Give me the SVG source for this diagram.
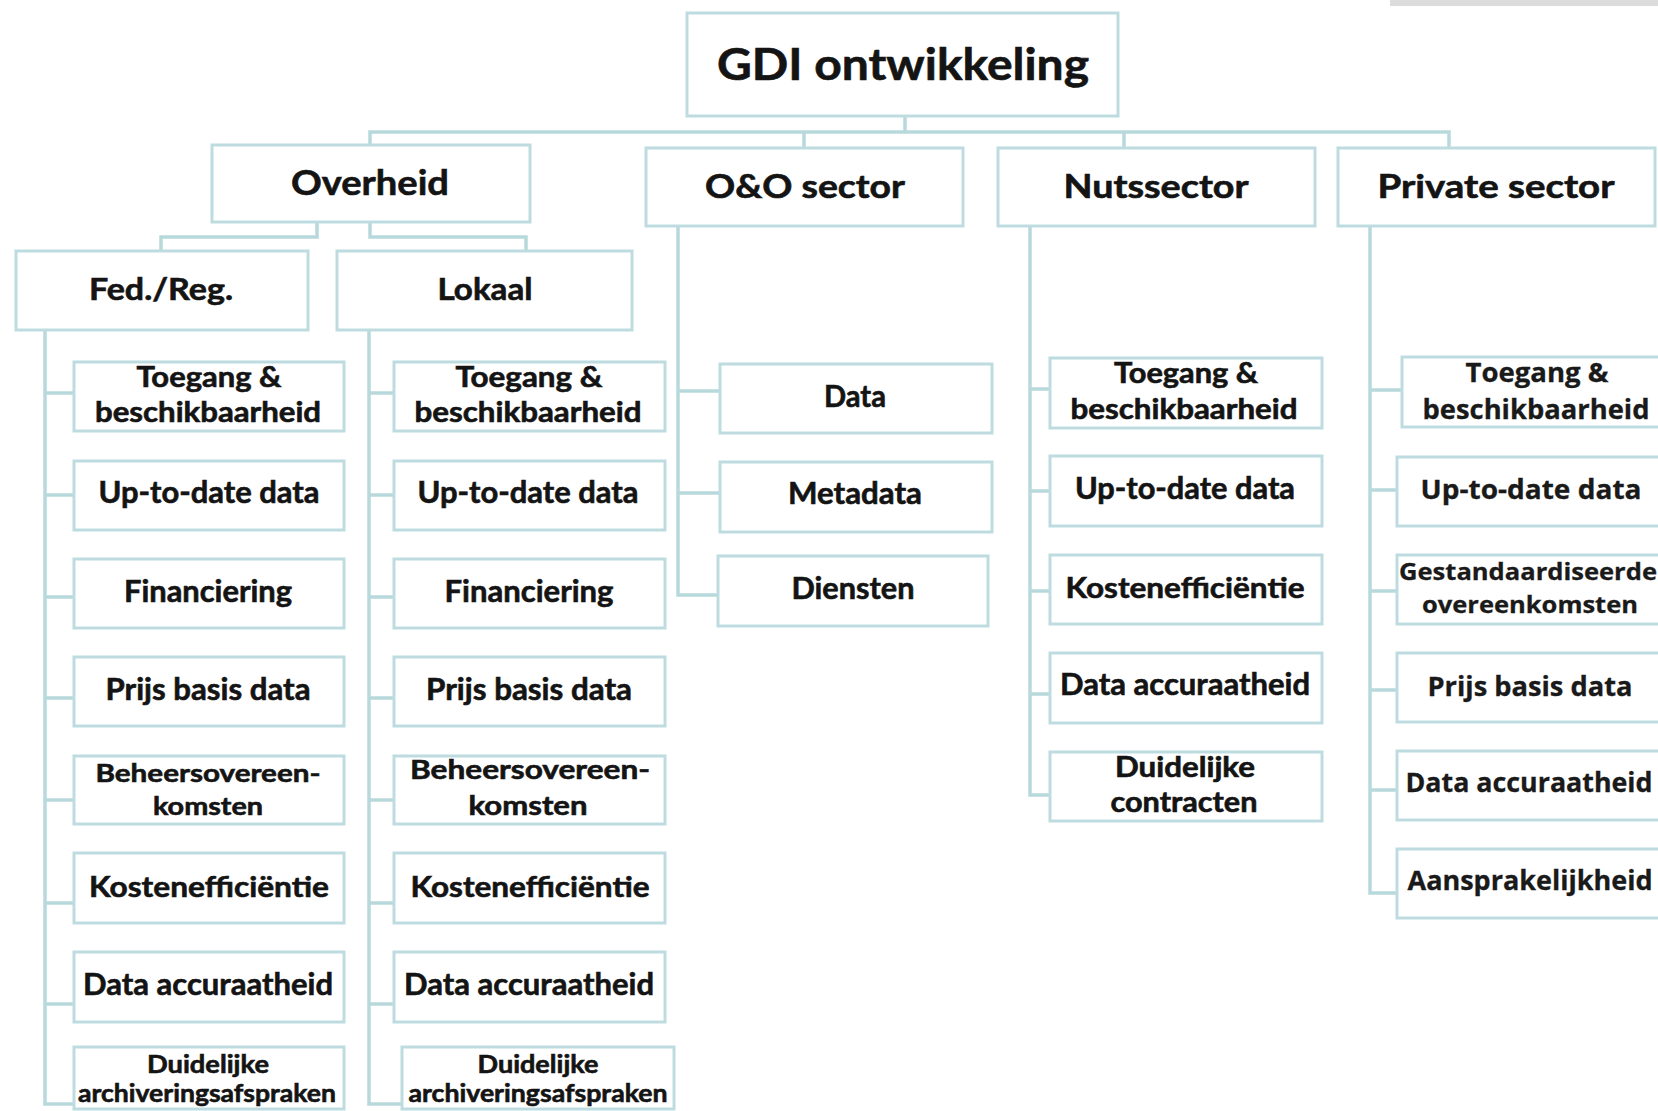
<svg xmlns="http://www.w3.org/2000/svg" width="1658" height="1111" viewBox="0 0 1658 1111">
<style>
.bx{fill:#ffffff;stroke:#bedcdf;stroke-width:3}
.cn{fill:none;stroke:#b8d9dc;stroke-width:3.5;stroke-linejoin:miter}
.t{font-family:Lato,"Liberation Sans",sans-serif;font-weight:700;fill:#141414;stroke:#141414;stroke-width:0.6;text-anchor:middle}
.p{font-family:"Open Sans","Liberation Sans",sans-serif;font-weight:700;fill:#1a1a1a;stroke:#1a1a1a;stroke-width:0.3;text-anchor:middle}
</style>
<rect width="1658" height="1111" fill="#ffffff"/>
<rect x="1390" y="0" width="268" height="6" fill="#dcdcdc"/>

<g id="connectors">
<path class="cn" d="M905,116V132M370,145V132H1449V148M804,132V148M1124,132V148"/>
<path class="cn" d="M317,222V237H161V251M370,222V237H526V251"/>
<path class="cn" d="M45,330V1104H74M45,393H74M45,495H74M45,597H74M45,698H74M45,800H74M45,903H74M45,1004H74"/>
<path class="cn" d="M369,330V1104H402M369,393H394M369,495H394M369,597H394M369,698H394M369,800H394M369,903H394M369,1004H394"/>
<path class="cn" d="M678,226V595H718M678,391H720M678,493H720"/>
<path class="cn" d="M1030,226V795H1050M1030,389H1050M1030,491H1050M1030,591H1050M1030,694H1050"/>
<path class="cn" d="M1370,226V893H1397M1370,390H1402M1370,490H1397M1370,591H1397M1370,690H1397M1370,790H1397"/>
</g>

<g id="gdi"><rect class="bx" x="687" y="13" width="431" height="103"/><text class="t" x="903" y="80" font-size="44" textLength="372" lengthAdjust="spacingAndGlyphs">GDI ontwikkeling</text></g>
<g id="overheid"><rect class="bx" x="212" y="145" width="318" height="77"/><text class="t" x="370" y="195" font-size="35" textLength="158" lengthAdjust="spacingAndGlyphs">Overheid</text></g>
<g id="oo-sector"><rect class="bx" x="646" y="148" width="317" height="78"/><text class="t" x="805" y="198" font-size="32" textLength="200" lengthAdjust="spacingAndGlyphs">O&amp;O sector</text></g>
<g id="nutssector"><rect class="bx" x="998" y="148" width="317" height="78"/><text class="t" x="1156" y="198" font-size="32" textLength="185" lengthAdjust="spacingAndGlyphs">Nutssector</text></g>
<g id="private-sector"><rect class="bx" x="1338" y="148" width="317" height="78"/><text class="t" x="1496" y="198" font-size="32" textLength="237" lengthAdjust="spacingAndGlyphs">Private sector</text></g>
<g id="fedreg"><rect class="bx" x="16" y="251" width="292" height="79"/><text class="t" x="161" y="300" font-size="30" textLength="144" lengthAdjust="spacingAndGlyphs">Fed./Reg.</text></g>
<g id="lokaal"><rect class="bx" x="337" y="251" width="295" height="79"/><text class="t" x="485" y="300" font-size="30" textLength="95" lengthAdjust="spacingAndGlyphs">Lokaal</text></g>

<!-- Fed./Reg. column -->
<g id="fed-toegang"><rect class="bx" x="74" y="362" width="270" height="69"/><text class="t" x="209" y="387" font-size="28" textLength="145" lengthAdjust="spacingAndGlyphs">Toegang &amp;</text><text class="t" x="208" y="422" font-size="28" textLength="226" lengthAdjust="spacingAndGlyphs">beschikbaarheid</text></g>
<g id="fed-uptodate"><rect class="bx" x="74" y="461" width="270" height="69"/><text class="t" x="209" y="503" font-size="30" textLength="221" lengthAdjust="spacingAndGlyphs">Up-to-date data</text></g>
<g id="fed-financiering"><rect class="bx" x="74" y="559" width="270" height="69"/><text class="t" x="208" y="602" font-size="30" textLength="168" lengthAdjust="spacingAndGlyphs">Financiering</text></g>
<g id="fed-prijs"><rect class="bx" x="74" y="657" width="270" height="69"/><text class="t" x="208" y="700" font-size="30" textLength="205" lengthAdjust="spacingAndGlyphs">Prijs basis data</text></g>
<g id="fed-beheer"><rect class="bx" x="74" y="756" width="270" height="68"/><text class="t" x="208" y="782" font-size="25" textLength="225" lengthAdjust="spacingAndGlyphs">Beheersovereen-</text><text class="t" x="208" y="815" font-size="25" textLength="110" lengthAdjust="spacingAndGlyphs">komsten</text></g>
<g id="fed-kosten"><rect class="bx" x="74" y="853" width="270" height="70"/><text class="t" x="209" y="897" font-size="29" textLength="240" lengthAdjust="spacingAndGlyphs">Kostenefficiëntie</text></g>
<g id="fed-accuraat"><rect class="bx" x="74" y="952" width="270" height="70"/><text class="t" x="208" y="995" font-size="30" textLength="250" lengthAdjust="spacingAndGlyphs">Data accuraatheid</text></g>
<g id="fed-archief"><rect class="bx" x="74" y="1047" width="270" height="62"/><text class="t" x="208" y="1073" font-size="24" textLength="122" lengthAdjust="spacingAndGlyphs">Duidelijke</text><text class="t" x="207" y="1102" font-size="24" textLength="258" lengthAdjust="spacingAndGlyphs">archiveringsafspraken</text></g>

<!-- Lokaal column -->
<g id="lok-toegang"><rect class="bx" x="394" y="362" width="271" height="69"/><text class="t" x="529" y="387" font-size="28" textLength="147" lengthAdjust="spacingAndGlyphs">Toegang &amp;</text><text class="t" x="528" y="422" font-size="28" textLength="227" lengthAdjust="spacingAndGlyphs">beschikbaarheid</text></g>
<g id="lok-uptodate"><rect class="bx" x="394" y="461" width="271" height="69"/><text class="t" x="528" y="503" font-size="30" textLength="221" lengthAdjust="spacingAndGlyphs">Up-to-date data</text></g>
<g id="lok-financiering"><rect class="bx" x="394" y="559" width="271" height="69"/><text class="t" x="529" y="602" font-size="30" textLength="169" lengthAdjust="spacingAndGlyphs">Financiering</text></g>
<g id="lok-prijs"><rect class="bx" x="394" y="657" width="271" height="69"/><text class="t" x="529" y="700" font-size="30" textLength="206" lengthAdjust="spacingAndGlyphs">Prijs basis data</text></g>
<g id="lok-beheer"><rect class="bx" x="394" y="756" width="271" height="68"/><text class="t" x="530" y="779" font-size="27" textLength="240" lengthAdjust="spacingAndGlyphs">Beheersovereen-</text><text class="t" x="528" y="815" font-size="27" textLength="119" lengthAdjust="spacingAndGlyphs">komsten</text></g>
<g id="lok-kosten"><rect class="bx" x="394" y="853" width="271" height="70"/><text class="t" x="530" y="897" font-size="29" textLength="239" lengthAdjust="spacingAndGlyphs">Kostenefficiëntie</text></g>
<g id="lok-accuraat"><rect class="bx" x="394" y="952" width="271" height="70"/><text class="t" x="529" y="995" font-size="30" textLength="250" lengthAdjust="spacingAndGlyphs">Data accuraatheid</text></g>
<g id="lok-archief"><rect class="bx" x="402" y="1047" width="272" height="62"/><text class="t" x="538" y="1073" font-size="24" textLength="121" lengthAdjust="spacingAndGlyphs">Duidelijke</text><text class="t" x="538" y="1102" font-size="24" textLength="259" lengthAdjust="spacingAndGlyphs">archiveringsafspraken</text></g>

<!-- O&O column -->
<g id="oo-data"><rect class="bx" x="720" y="364" width="272" height="69"/><text class="t" x="855" y="407" font-size="30" textLength="62" lengthAdjust="spacingAndGlyphs">Data</text></g>
<g id="oo-metadata"><rect class="bx" x="720" y="462" width="272" height="70"/><text class="t" x="855" y="504" font-size="30" textLength="134" lengthAdjust="spacingAndGlyphs">Metadata</text></g>
<g id="oo-diensten"><rect class="bx" x="718" y="556" width="270" height="70"/><text class="t" x="853" y="599" font-size="30" textLength="123" lengthAdjust="spacingAndGlyphs">Diensten</text></g>

<!-- Nuts column -->
<g id="nut-toegang"><rect class="bx" x="1050" y="358" width="272" height="70"/><text class="t" x="1186" y="383" font-size="28" textLength="144" lengthAdjust="spacingAndGlyphs">Toegang &amp;</text><text class="t" x="1184" y="419" font-size="28" textLength="227" lengthAdjust="spacingAndGlyphs">beschikbaarheid</text></g>
<g id="nut-uptodate"><rect class="bx" x="1050" y="456" width="272" height="70"/><text class="t" x="1185" y="499" font-size="30" textLength="220" lengthAdjust="spacingAndGlyphs">Up-to-date data</text></g>
<g id="nut-kosten"><rect class="bx" x="1050" y="555" width="272" height="69"/><text class="t" x="1185" y="598" font-size="29" textLength="239" lengthAdjust="spacingAndGlyphs">Kostenefficiëntie</text></g>
<g id="nut-accuraat"><rect class="bx" x="1050" y="653" width="272" height="70"/><text class="t" x="1185" y="695" font-size="30" textLength="250" lengthAdjust="spacingAndGlyphs">Data accuraatheid</text></g>
<g id="nut-contracten"><rect class="bx" x="1050" y="752" width="272" height="69"/><text class="t" x="1185" y="777" font-size="28" textLength="140" lengthAdjust="spacingAndGlyphs">Duidelijke</text><text class="t" x="1184" y="812" font-size="28" textLength="147" lengthAdjust="spacingAndGlyphs">contracten</text></g>

<!-- Private column -->
<g id="pri-toegang"><rect class="bx" x="1402" y="357" width="270" height="70"/><text class="p" x="1537" y="382" font-size="26" textLength="143" lengthAdjust="spacingAndGlyphs">Toegang &amp;</text><text class="p" x="1536" y="419" font-size="26" textLength="227" lengthAdjust="spacingAndGlyphs">beschikbaarheid</text></g>
<g id="pri-uptodate"><rect class="bx" x="1397" y="457" width="275" height="69"/><text class="p" x="1531" y="499" font-size="26" textLength="221" lengthAdjust="spacingAndGlyphs">Up-to-date data</text></g>
<g id="pri-overeenkomsten"><rect class="bx" x="1397" y="555" width="275" height="69"/><text class="p" x="1528" y="580" font-size="24" textLength="258" lengthAdjust="spacingAndGlyphs">Gestandaardiseerde</text><text class="p" x="1530" y="613" font-size="24" textLength="216" lengthAdjust="spacingAndGlyphs">overeenkomsten</text></g>
<g id="pri-prijs"><rect class="bx" x="1397" y="653" width="275" height="69"/><text class="p" x="1530" y="696" font-size="26" textLength="205" lengthAdjust="spacingAndGlyphs">Prijs basis data</text></g>
<g id="pri-accuraat"><rect class="bx" x="1397" y="751" width="275" height="69"/><text class="p" x="1529" y="792" font-size="26" textLength="247" lengthAdjust="spacingAndGlyphs">Data accuraatheid</text></g>
<g id="pri-aansprakelijkheid"><rect class="bx" x="1397" y="849" width="275" height="69"/><text class="p" x="1530" y="890" font-size="26" textLength="245" lengthAdjust="spacingAndGlyphs">Aansprakelijkheid</text></g>
</svg>
